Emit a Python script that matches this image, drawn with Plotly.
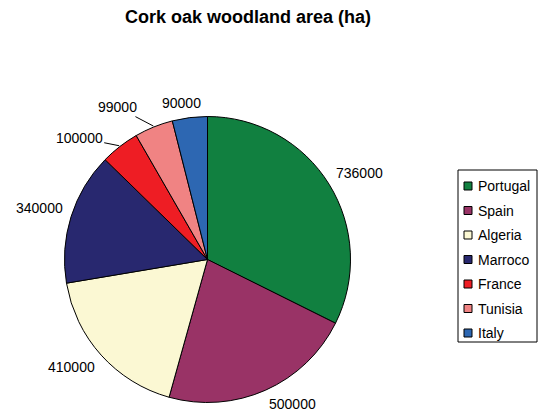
import math
import plotly.graph_objects as go

countries = ["Portugal", "Spain", "Algeria", "Marroco", "France", "Tunisia", "Italy"]
areas = [736000, 500000, 410000, 340000, 100000, 99000, 90000]
colors = ["#118040", "#993366", "#FBF8D3", "#28286F", "#EE1D24", "#F08383", "#2D67B2"]

W, H = 540, 416
cx_px, cy_px, R = 207.5, 259.5, 143
FONT = "Liberation Sans, Arial, sans-serif"

fig = go.Figure(go.Pie(
    labels=countries, values=areas, sort=False, direction="clockwise", rotation=0,
    marker=dict(colors=colors, line=dict(color="black", width=1)),
    textinfo="none", hoverinfo="label+value", showlegend=False,
    domain=dict(x=[(cx_px - R) / W, (cx_px + R) / W], y=[1 - (cy_px + R) / H, 1 - (cy_px - R) / H]),
))


def clip(v):
    return max(-1.0, min(1.0, v))


LABEL_FONT = dict(size=14, color="black", family=FONT)
total = sum(areas)
cum = 0
annotations = []
for v in areas:
    frac = v / total
    mid = (cum + frac / 2) * 2 * math.pi
    cum += frac
    s, c = math.sin(mid), math.cos(mid)
    txt = f"{v}"
    hw = len(txt) * 4.0
    hh = 7
    if frac < 0.05 and s < -0.3:
        ex, ey = cx_px + (R + 1) * s, cy_px - (R + 1) * c
        annotations.append(dict(
            x=ex / W, y=1 - ey / H, xref="paper", yref="paper", text=txt,
            showarrow=True, arrowhead=0, arrowwidth=1, arrowcolor="black",
            ax=-(hw + 16), ay=-8 - 80 * (c - 0.79), font=LABEL_FONT,
        ))
    else:
        g = 8
        tx = cx_px + (R + g) * s + hw * clip(3 * s)
        ty = cy_px - (R + g) * c - hh * clip(3 * c)
        annotations.append(dict(
            x=tx / W, y=1 - ty / H, xref="paper", yref="paper", text=txt,
            showarrow=False, xanchor="center", yanchor="middle", font=LABEL_FONT,
        ))

# legend box drawn from the category list
shapes = []
leg_x0, leg_x1, leg_y0, leg_y1 = 458, 537, 170, 342
row0, row_step = 186, 24.5
shapes.append(dict(type="rect", xref="paper", yref="paper",
                   x0=leg_x0 / W, x1=leg_x1 / W, y0=1 - leg_y1 / H, y1=1 - leg_y0 / H,
                   line=dict(color="black", width=1), fillcolor="white", layer="below"))
for i, (name, col) in enumerate(zip(countries, colors)):
    yc = row0 + i * row_step
    shapes.append(dict(type="rect", xref="paper", yref="paper",
                       x0=464 / W, x1=472 / W, y0=1 - (yc + 4) / H, y1=1 - (yc - 4) / H,
                       line=dict(color="black", width=1), fillcolor=col))
    annotations.append(dict(x=476 / W, y=1 - yc / H, xref="paper", yref="paper", text=name,
                            showarrow=False, xanchor="left", yanchor="middle",
                            font=dict(size=14, color="black", family=FONT)))

fig.update_layout(
    width=W, height=H, margin=dict(l=0, r=0, t=0, b=0),
    paper_bgcolor="white", plot_bgcolor="white", showlegend=False,
    font=dict(family=FONT, color="black"),
    title=dict(text="<b>Cork oak woodland area (ha)</b>", x=248 / W, xanchor="center",
               y=1 - 17 / H, yanchor="middle", font=dict(size=18, color="black")),
    annotations=annotations, shapes=shapes,
)

fig.write_html("out.html", config={"displayModeBar": False},
               post_script="document.body.style.margin='0px';")
